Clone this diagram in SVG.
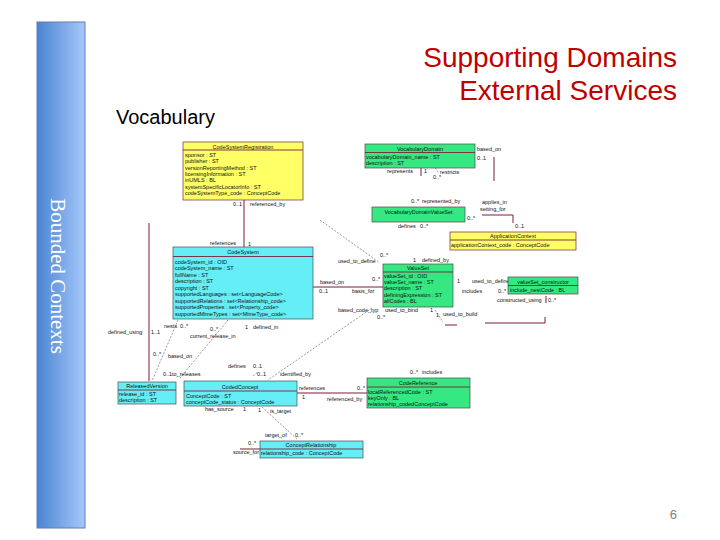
<svg xmlns="http://www.w3.org/2000/svg" width="720" height="540" viewBox="0 0 720 540">
<defs>
<linearGradient id="bar" x1="0" y1="0" x2="1" y2="0">
<stop offset="0" stop-color="#4a84d2"/>
<stop offset="1" stop-color="#a6c8fb"/>
</linearGradient>
<style>
.t{font-family:"Liberation Sans",Arial,sans-serif;font-size:5.5px;fill:#111}
.m{text-anchor:middle}
.yb{fill:#ffff66;stroke:#6a2a40;stroke-width:0.7}
.gb{fill:#35e882;stroke:#4a4a4a;stroke-width:0.7}
.cb{fill:#66eef6;stroke:#4a4a4a;stroke-width:0.7}
.sep{stroke:#7a1f3d;stroke-width:0.9}
.ln{stroke:#7a1f3d;stroke-width:1;fill:none}
.ds{stroke:#555;stroke-width:0.6;stroke-dasharray:2 1.5;fill:none}
.red{font-family:"Liberation Sans",Arial,sans-serif;font-size:28px;fill:#c00000;text-anchor:end}
</style>
</defs>
<rect width="720" height="540" fill="#ffffff"/>
<rect x="37" y="22" width="48" height="506" fill="url(#bar)" stroke="#5f7fb5" stroke-width="1"/>
<text transform="translate(51,276) rotate(90)" text-anchor="middle" font-family="'Liberation Serif','Times New Roman',serif" font-size="21" fill="#ffffff">Bounded Contexts</text>
<text class="red" x="677" y="67">Supporting Domains</text>
<text class="red" x="677" y="100">External Services</text>
<text x="116" y="124" font-family="'Liberation Sans',Arial,sans-serif" font-size="20" fill="#000">Vocabulary</text>
<text x="677" y="519" text-anchor="end" font-family="'Liberation Sans',Arial,sans-serif" font-size="13" fill="#808080">6</text>

<g id="connectors">
<line class="ln" x1="244" y1="200" x2="244" y2="247"/>
<line class="ln" x1="149" y1="223" x2="149" y2="381"/>
<line class="ln" x1="494" y1="157" x2="494" y2="181"/>
<line class="ln" x1="421" y1="167" x2="421" y2="176"/>
<polyline class="ln" points="482,215 513,215 513,223"/>
<line class="ln" x1="313" y1="287" x2="383" y2="287"/>
<line class="ln" x1="297" y1="393" x2="367" y2="393"/>
<line class="ln" x1="240" y1="449" x2="260" y2="449"/>
<line class="ln" x1="445" y1="325" x2="457" y2="325"/>
<polyline class="ln" points="485,323 545,323 545,317"/>
<line class="ln" x1="546" y1="296" x2="546" y2="303"/>
<line class="ds" x1="435" y1="168" x2="439" y2="173"/>
<line class="ds" x1="320" y1="220" x2="380" y2="263"/>
<line class="ds" x1="372" y1="308" x2="268" y2="380"/>
<line class="ds" x1="178" y1="320" x2="152" y2="381"/>
<line class="ds" x1="228" y1="320" x2="180" y2="378"/>
<line class="ds" x1="262" y1="407" x2="298" y2="440"/>
<line class="ds" x1="435" y1="310" x2="443" y2="322"/>
<line class="ds" x1="253" y1="376" x2="258" y2="372"/>
</g>

<g id="labels" class="t">
<text x="233" y="206">0..1</text>
<text x="250" y="206">referenced_by</text>
<text x="210" y="245">references</text>
<text x="248" y="246">1</text>
<text x="477" y="151">based_on</text>
<text x="477" y="160">0..1</text>
<text x="387" y="173">represents</text>
<text x="424" y="173">1</text>
<text x="433" y="179">0..*</text>
<text x="440" y="174">restricts</text>
<text x="411" y="203">0..*</text>
<text x="422" y="203">represented_by</text>
<text x="398" y="228">defines</text>
<text x="420" y="228">0..*</text>
<text x="482" y="204">applies_in</text>
<text x="480" y="211">setting_for</text>
<text x="467" y="220">0..*</text>
<text x="515" y="228">0..1</text>
<text x="338" y="263">used_to_define</text>
<text x="380" y="257">0..*</text>
<text x="413" y="262">1</text>
<text x="422" y="262">defined_by</text>
<text x="320" y="284">based_on</text>
<text x="372" y="281">0..*</text>
<text x="319" y="293">0..1</text>
<text x="352" y="293">basis_for</text>
<text x="338" y="312">based_code_typ</text>
<text x="385" y="312">used_to_bind</text>
<text x="377" y="319">0..*</text>
<text x="430" y="312">1</text>
<text x="436" y="317">1</text>
<text x="443" y="316">used_to_build</text>
<text x="457" y="283">1</text>
<text x="472" y="283">used_to_define</text>
<text x="462" y="293">includes</text>
<text x="498" y="293">0..*</text>
<text x="497" y="302">constructed_using</text>
<text x="548" y="302">0..*</text>
<text x="108" y="334">defined_using</text>
<text x="151" y="334">1..1</text>
<text x="164" y="328">nests</text>
<text x="180" y="328">0..*</text>
<text x="210" y="331">0..*</text>
<text x="245" y="329">1</text>
<text x="253" y="329">defined_in</text>
<text x="190" y="338">current_release_in</text>
<text x="153" y="356">0..*</text>
<text x="168" y="358">based_on</text>
<text x="163" y="376">0..1</text>
<text x="172" y="376">to_releases</text>
<text x="228" y="368">defines</text>
<text x="253" y="368">0..1</text>
<text x="257" y="376">0..1</text>
<text x="280" y="376">identified_by</text>
<text x="410" y="374">0..*</text>
<text x="422" y="374">includes</text>
<text x="299" y="390">references</text>
<text x="357" y="390">0..*</text>
<text x="302" y="399">1</text>
<text x="327" y="401">referenced_by</text>
<text x="205" y="411">has_source</text>
<text x="243" y="411">1</text>
<text x="258" y="412">1</text>
<text x="270" y="413">is_target</text>
<text x="265" y="437">target_of</text>
<text x="295" y="437">0..*</text>
<text x="248" y="445">0..*</text>
<text x="233" y="454">source_for</text>
</g>

<g id="CodeSystemRegistration">
<rect class="yb" x="183" y="142" width="120" height="58"/>
<line class="sep" x1="183" y1="150" x2="303" y2="150"/>
<text class="t m" x="243" y="148.5">CodeSystemRegistration</text>
<text class="t" x="185" y="157">sponsor : ST</text>
<text class="t" x="185" y="163.3">publisher : ST</text>
<text class="t" x="185" y="169.6">versionReportingMethod : ST</text>
<text class="t" x="185" y="175.9">licensingInformation : ST</text>
<text class="t" x="185" y="182.2">inUMLS : BL</text>
<text class="t" x="185" y="188.5">systemSpecificLocatorInfo : ST</text>
<text class="t" x="185" y="194.8">codeSystemType_code : ConceptCode</text>
</g>

<g id="VocabularyDomain">
<rect class="gb" x="365" y="144" width="110" height="24"/>
<line class="sep" x1="365" y1="152.5" x2="475" y2="152.5"/>
<text class="t m" x="420" y="150.5">VocabularyDomain</text>
<text class="t" x="366" y="158.5">vocabularyDomain_name : ST</text>
<text class="t" x="366" y="165">description : ST</text>
</g>

<g id="VocabularyDomainValueSet">
<rect class="gb" x="372" y="207" width="93" height="15"/>
<text class="t m" x="418.5" y="213.5">VocabularyDomainValueSet</text>
</g>

<g id="ApplicationContext">
<rect class="yb" x="450" y="232" width="126" height="18"/>
<line class="sep" x1="450" y1="240" x2="576" y2="240"/>
<text class="t m" x="513" y="238">ApplicationContext</text>
<text class="t" x="451" y="247">applicationContext_code : ConceptCode</text>
</g>

<g id="CodeSystem">
<rect class="cb" x="173" y="247" width="140" height="72"/>
<line class="sep" x1="173" y1="256.5" x2="313" y2="256.5" stroke-width="0.5"/>
<text class="t m" x="243" y="254">CodeSystem</text>
<text class="t" x="175" y="263.5">codeSystem_id : OID</text>
<text class="t" x="175" y="270">codeSystem_name : ST</text>
<text class="t" x="175" y="276.5">fullName : ST</text>
<text class="t" x="175" y="283">description : ST</text>
<text class="t" x="175" y="289.5">copyright : ST</text>
<text class="t" x="175" y="296">supportedLanguages : set&lt;LanguageCode&gt;</text>
<text class="t" x="175" y="302.5">supportedRelations : set&lt;Relationship_code&gt;</text>
<text class="t" x="175" y="309">supportedProperties : set&lt;Property_code&gt;</text>
<text class="t" x="175" y="315.5">supportedMimeTypes : set&lt;MimeType_code&gt;</text>
</g>

<g id="ValueSet">
<rect class="gb" x="383" y="264" width="70" height="43"/>
<line class="sep" x1="383" y1="272" x2="453" y2="272"/>
<text class="t m" x="418" y="270">ValueSet</text>
<text class="t" x="384" y="278">valueSet_id : OID</text>
<text class="t" x="384" y="284">valueSet_name : ST</text>
<text class="t" x="384" y="290">description : ST</text>
<text class="t" x="384" y="296.5">definingExpression : ST</text>
<text class="t" x="384" y="303">allCodes : BL</text>
</g>

<g id="ValueSetConstructor">
<rect class="gb" x="508" y="277" width="70" height="17" stroke="#333"/>
<line class="sep" x1="508" y1="285.5" x2="578" y2="285.5" stroke-width="0.5"/>
<text class="t m" x="543" y="283.5">valueSet_constructor</text>
<text class="t" x="510" y="291.5">include_nestCode : BL</text>
</g>

<g id="ReleasedVersion">
<rect class="cb" x="118" y="382" width="58" height="22"/>
<line class="sep" x1="118" y1="390" x2="176" y2="390"/>
<text class="t m" x="147" y="388">ReleasedVersion</text>
<text class="t" x="119" y="396">release_id : ST</text>
<text class="t" x="119" y="402">description : ST</text>
</g>

<g id="CodedConcept">
<rect class="cb" x="184" y="381" width="113" height="25"/>
<line class="sep" x1="184" y1="391" x2="297" y2="391"/>
<text class="t m" x="240" y="389">CodedConcept</text>
<text class="t" x="186" y="397.5">ConceptCode : ST</text>
<text class="t" x="186" y="403.5">conceptCode_status : ConceptCode</text>
</g>

<g id="CodeReference">
<rect class="gb" x="367" y="378" width="103" height="30"/>
<line class="sep" x1="367" y1="387" x2="470" y2="387"/>
<text class="t m" x="418" y="385">CodeReference</text>
<text class="t" x="368" y="393.5">localReferencedCode : ST</text>
<text class="t" x="368" y="399.5">keyOnly : BL</text>
<text class="t" x="368" y="405.5">relationship_codedConceptCode</text>
</g>

<g id="ConceptRelationship">
<rect class="cb" x="260" y="441" width="103" height="17"/>
<line class="sep" x1="260" y1="449" x2="363" y2="449"/>
<text class="t m" x="311" y="447">ConceptRelationship</text>
<text class="t" x="261" y="455">relationship_code : ConceptCode</text>
</g>
</svg>
